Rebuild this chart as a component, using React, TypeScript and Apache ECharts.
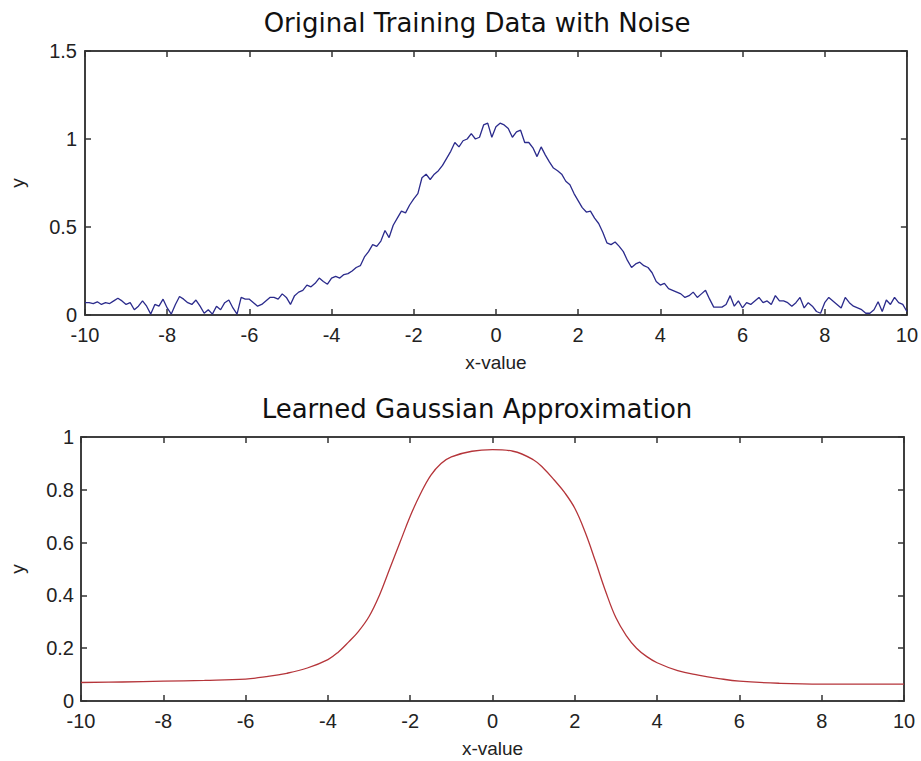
import React, { useEffect, useRef } from "react";
import * as echarts from "echarts";

// ---- data ----
const TITLE_TOP = "Original Training Data with Noise";
const TITLE_BOTTOM = "Learned Gaussian Approximation";
const X_NAME = "x-value";
const Y_NAME = "y";

// noisy training data sampled every 0.1 from -10 to 10
const NOISE_X_START = -10;
const NOISE_X_STEP = 0.1;
const noisyY = [
  0.07, 0.07, 0.065, 0.075, 0.06, 0.07, 0.065, 0.08, 0.095, 0.08,
  0.06, 0.07, 0.03, 0.05, 0.08, 0.05, 0.005, 0.06, 0.05, 0.09,
  0.04, 0.005, 0.06, 0.105, 0.09, 0.07, 0.06, 0.085, 0.05, 0.01,
  0.03, 0.005, 0.05, 0.03, 0.07, 0.085, 0.04, 0.005, 0.1, 0.09,
  0.09, 0.07, 0.05, 0.06, 0.08, 0.1, 0.1, 0.09, 0.12, 0.1,
  0.06, 0.11, 0.13, 0.14, 0.17, 0.16, 0.18, 0.21, 0.19, 0.175,
  0.21, 0.22, 0.21, 0.23, 0.235, 0.25, 0.27, 0.28, 0.33, 0.36,
  0.4, 0.39, 0.42, 0.48, 0.44, 0.51, 0.55, 0.59, 0.58, 0.625,
  0.66, 0.69, 0.78, 0.8, 0.77, 0.8, 0.82, 0.85, 0.89, 0.93,
  0.98, 0.955, 0.99, 1.0, 1.03, 1.0, 1.01, 1.08, 1.09, 1.01,
  1.07, 1.09, 1.08, 1.06, 1.01, 1.04, 1.05, 0.98, 0.98, 0.95,
  0.9, 0.955, 0.91, 0.87, 0.835, 0.82, 0.8, 0.76, 0.74, 0.69,
  0.65, 0.61, 0.585, 0.59, 0.55, 0.52, 0.47, 0.41, 0.4, 0.415,
  0.39, 0.36, 0.31, 0.27, 0.29, 0.3, 0.28, 0.27, 0.24, 0.19,
  0.17, 0.18, 0.15, 0.14, 0.13, 0.12, 0.1, 0.11, 0.13, 0.1,
  0.12, 0.14, 0.09, 0.045, 0.045, 0.045, 0.06, 0.11, 0.05, 0.08,
  0.04, 0.07, 0.06, 0.08, 0.1, 0.07, 0.08, 0.06, 0.11, 0.08,
  0.08, 0.07, 0.05, 0.07, 0.1, 0.04, 0.07, 0.05, 0.02, 0.01,
  0.07, 0.1, 0.08, 0.06, 0.04, 0.1, 0.07, 0.05, 0.04, 0.03,
  0.01, 0.01, 0.03, 0.075, 0.02, 0.085, 0.06, 0.1, 0.07, 0.06,
  0.02,
];

// learned approximation
const fitX = [
  -10, -9, -8, -7, -6, -5.5, -5, -4.5, -4, -3.75, -3.5, -3.25, -3, -2.75, -2.5,
  -2.25, -2, -1.75, -1.5, -1.25, -1, -0.5, 0, 0.5, 1, 1.25, 1.5, 1.75, 2, 2.25,
  2.5, 2.75, 3, 3.25, 3.5, 3.75, 4, 4.5, 5, 5.5, 6, 7, 8, 9, 10,
];
const fitY = [
  0.07, 0.072, 0.075, 0.078, 0.083, 0.092, 0.105, 0.125, 0.157, 0.185, 0.223,
  0.265, 0.32, 0.4, 0.5, 0.6, 0.7, 0.785, 0.855, 0.9, 0.925, 0.946, 0.952, 0.946,
  0.913, 0.88, 0.837, 0.79, 0.73, 0.64, 0.53, 0.415, 0.315, 0.248, 0.2, 0.168,
  0.145, 0.115, 0.098, 0.085, 0.075, 0.067, 0.064, 0.064, 0.064,
];

const TOP_Y_MAX = 1.5;
const TOP_Y_STEP = 0.5;
const BOT_Y_MAX = 1;
const BOT_Y_STEP = 0.2;
const X_MIN = -10;
const X_MAX = 10;
const X_STEP = 2;

export default function App() {
  const ref = useRef<HTMLDivElement>(null);

  useEffect(() => {
    if (!ref.current) return;
    const chart = echarts.init(ref.current, undefined, { renderer: "svg" });

    const axisColor = "#333";
    const labelFont = {
      color: "#222",
      fontSize: 20,
      lineHeight: 16,
      fontFamily: "Liberation Sans, Arial, sans-serif",
    };
    const nameFont = {
      color: "#222",
      fontSize: 19,
      fontFamily: "Liberation Sans, Arial, sans-serif",
    };

    const mkX = (gridIndex: number, position: "bottom" | "top", main: boolean) => ({
      gridIndex,
      type: "value",
      position,
      min: X_MIN,
      max: X_MAX,
      interval: X_STEP,
      axisLine: { show: true, onZero: false, lineStyle: { color: axisColor, width: 1.5 } },
      axisTick: { show: true, inside: true, length: 6, lineStyle: { color: axisColor, width: 1.5 } },
      axisLabel: { show: main, margin: 12, ...labelFont },
      splitLine: { show: false },
      name: main ? X_NAME : "",
      nameLocation: "middle",
      nameGap: 38,
      nameTextStyle: nameFont,
    });

    const mkY = (
      gridIndex: number,
      position: "left" | "right",
      main: boolean,
      max: number,
      step: number,
      gap: number,
      margin: number
    ) => ({
      gridIndex,
      type: "value",
      position,
      min: 0,
      max,
      interval: step,
      axisLine: { show: true, onZero: false, lineStyle: { color: axisColor, width: 1.5 } },
      axisTick: { show: true, inside: true, length: 6, lineStyle: { color: axisColor, width: 1.5 } },
      axisLabel: { show: main, margin, ...labelFont },
      splitLine: { show: false },
      name: main ? Y_NAME : "",
      nameLocation: "middle",
      nameGap: gap,
      nameTextStyle: nameFont,
    });

    const noisyData = noisyY.map((v, i) => [
      Math.round((NOISE_X_START + i * NOISE_X_STEP) * 10) / 10,
      v,
    ]);
    const fitData = fitX.map((x, i) => [x, fitY[i]]);

    const titleStyle = {
      textAlign: "center",
      textVerticalAlign: "middle",
      fill: "#111",
      fontSize: 26,
      fontFamily: "DejaVu Sans, sans-serif",
    };

    chart.setOption({
      animation: false,
      backgroundColor: "#fff",
      grid: [
        { left: 80, top: 51, width: 828, height: 264, show: true, borderColor: axisColor, borderWidth: 1.5, backgroundColor: "#fff" },
        { left: 76, top: 437, width: 828, height: 264, show: true, borderColor: axisColor, borderWidth: 1.5, backgroundColor: "#fff" },
      ],
      xAxis: [mkX(0, "bottom", true), mkX(0, "top", false), mkX(1, "bottom", true), mkX(1, "top", false)],
      yAxis: [
        mkY(0, "left", true, TOP_Y_MAX, TOP_Y_STEP, 58, 8),
        mkY(0, "right", false, TOP_Y_MAX, TOP_Y_STEP, 0, 8),
        mkY(1, "left", true, BOT_Y_MAX, BOT_Y_STEP, 54, 7),
        mkY(1, "right", false, BOT_Y_MAX, BOT_Y_STEP, 0, 7),
      ],
      graphic: [
        { type: "text", x: 477, y: 23, style: { ...titleStyle, text: TITLE_TOP } },
        { type: "text", x: 477, y: 409, style: { ...titleStyle, text: TITLE_BOTTOM } },
      ],
      series: [
        {
          type: "line",
          xAxisIndex: 0,
          yAxisIndex: 0,
          data: noisyData,
          showSymbol: false,
          lineStyle: { color: "#2b2b8c", width: 1.3 },
        },
        {
          type: "line",
          xAxisIndex: 2,
          yAxisIndex: 2,
          data: fitData,
          showSymbol: false,
          smooth: 0.4,
          lineStyle: { color: "#b5353a", width: 1.3 },
        },
      ],
    });

    return () => chart.dispose();
  }, []);

  return (
    <div
      ref={ref}
      style={{ position: "absolute", left: 0, top: 0, width: 921, height: 761, background: "#fff" }}
    />
  );
}
